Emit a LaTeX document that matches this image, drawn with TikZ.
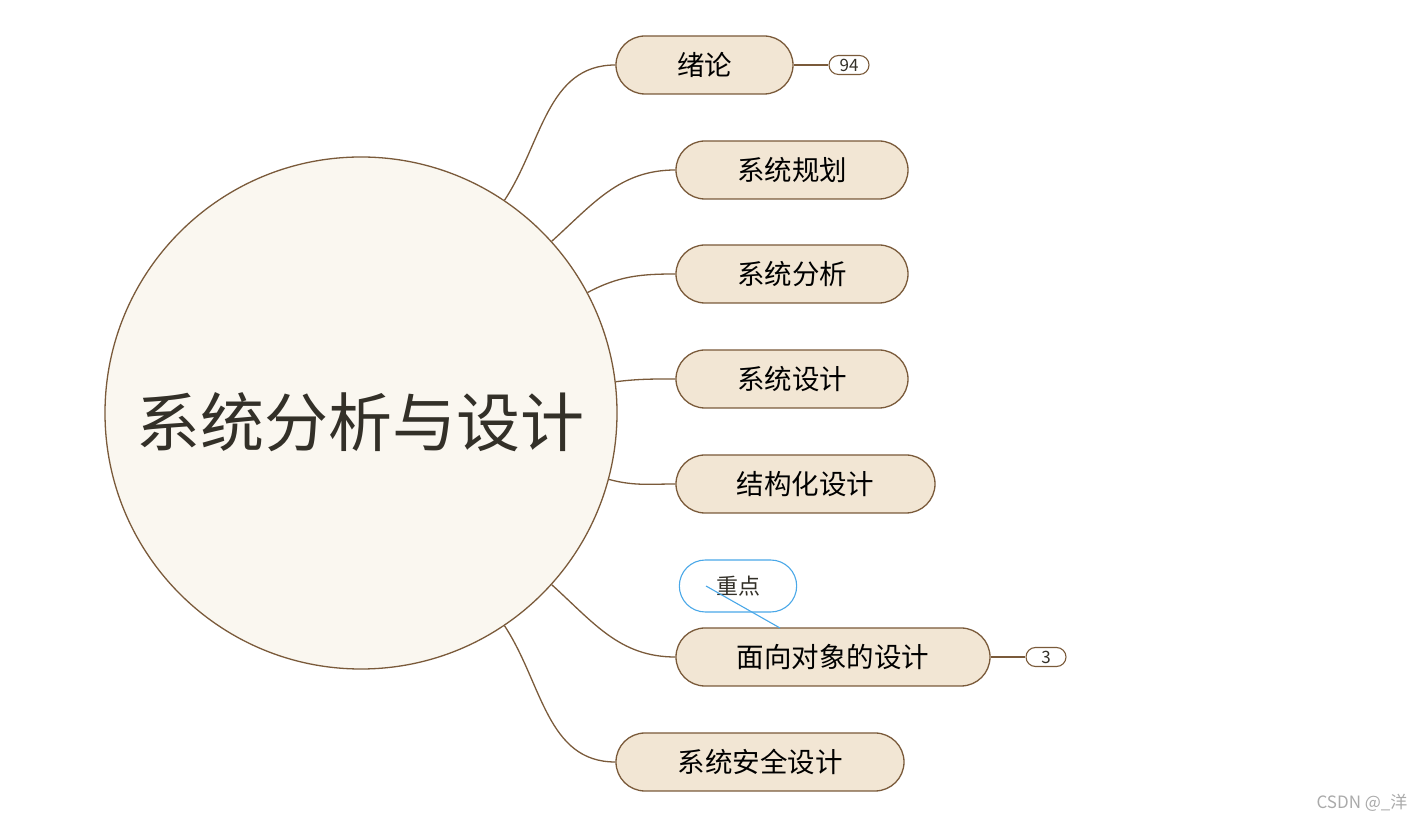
\documentclass[tikz,border=0pt]{standalone}
\usepackage{fontspec}
\newfontfamily\cjk{Noto Sans CJK SC}
\usetikzlibrary{shapes.misc,calc}
\definecolor{BranchLine}{RGB}{122,90,58}
\definecolor{TopicFill}{RGB}{242,230,212}
\definecolor{RootFill}{RGB}{250,247,240}
\definecolor{NoteBlue}{RGB}{74,168,232}
\definecolor{InkDark}{RGB}{51,48,40}
\definecolor{MarkGrey}{RGB}{170,170,170}
\tikzset{
	topic/.style={rounded rectangle, draw=BranchLine, fill=TopicFill, line width=1.3pt,
		minimum height=58pt, inner xsep=0pt, font=\cjk\fontsize{27.5}{31}\selectfont, text=black},
	badge/.style={rounded rectangle, draw=BranchLine, fill=white, line width=1.1pt,
		minimum width=40pt, minimum height=19pt, inner sep=0pt,
		font=\cjk\fontsize{17}{19}\selectfont, text=InkDark},
	branch/.style={BranchLine, line width=1.3pt},
}

\begin{document}
\begin{tikzpicture}[x=1pt, y=1pt]
		\useasboundingbox (0,0) rectangle (1426,824);
		\node[circle, draw=BranchLine, fill=RootFill, line width=1.3pt, minimum size=512pt,
			inner sep=0pt] (root) at (361,411) {};
		\node[font=\cjk\fontsize{64}{70}\selectfont, text=InkDark] (roottext) at (360,402) {系统分析与设计};
		% main topics
		\node[topic, minimum width=177pt] (intro) at (704.5,759) {绪论};
		\node[topic, minimum width=232pt] (plan) at (792,654) {系统规划};
		\node[topic, minimum width=232pt] (anal) at (792,550) {系统分析};
		\node[topic, minimum width=232pt] (desg) at (792,445) {系统设计};
		\node[topic, minimum width=259pt] (strc) at (805.5,340) {结构化设计};
		\node[topic, minimum width=314pt] (objd) at (833,167) {面向对象的设计};
		\node[topic, minimum width=288pt] (secu) at (760,62) {系统安全设计};
		% badges
		\node[badge] (introcnt) at (849,759) {94};
		\node[badge] (objdcnt) at (1046,167) {3};
		\draw[branch] (intro.east) -- (introcnt.west);
		\draw[branch] (objd.east) -- (objdcnt.west);
		% branches
		\draw[branch] (root.56.6) to[out=56.6, in=180] (intro.west);
		\draw[branch] (root.42) to[out=42, in=180] (plan.west);
		\draw[branch] (root.28) to[out=28, in=180] (anal.west);
		\draw[branch] (root.7) to[out=7, in=180] (desg.west);
		\draw[branch] (root.-15) to[out=-15, in=180] (strc.west);
		\draw[branch] (root.-42) to[out=-42, in=180] (objd.west);
		\draw[branch] (root.-56.6) to[out=-56.6, in=180] (secu.west);
		% callout
		\node[rounded rectangle, draw=NoteBlue, fill=white, line width=1.1pt, minimum width=124pt,
			minimum height=52pt, font=\cjk\fontsize{22}{25}\selectfont, text=InkDark] (focus) at (738,238) {重点};
		\coordinate (focustail) at (706,238);
		\coordinate (focushead) at (780,196);
		\draw[NoteBlue, line width=1.1pt] (focustail) -- (focushead);
		\node[font=\cjk\fontsize{17}{20}\selectfont, text=MarkGrey] (mark) at (1362,21) {CSDN @\_洋};
	\end{tikzpicture}
\end{document}
